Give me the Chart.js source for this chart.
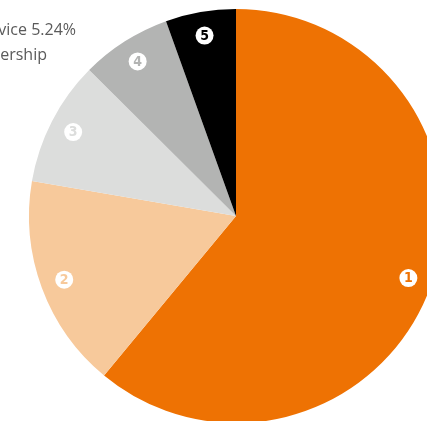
<!DOCTYPE html>
<html>
<head>
<meta charset="utf-8">
<script src="https://cdn.jsdelivr.net/npm/chart.js@4/dist/chart.umd.min.js"></script>
<style>
  html, body { margin: 0; padding: 0; background: #ffffff; overflow: hidden; width: 427px; height: 421px; }
  #wrap { position: absolute; left: 0; top: 0; width: 472px; height: 432px; }
  #note { position: absolute; left: 0; top: 0; width: 427px; height: 421px; pointer-events: none; }
</style>
</head>
<body>
<div id="wrap"><canvas id="c" width="472" height="432"></canvas></div>
<canvas id="note" width="427" height="421"></canvas>
<script>
// ---- data ----
const categories = ["1", "2", "3", "4", "5"];
const shares = [61.0, 16.7, 9.75, 7.06, 5.49];
const sliceColors = ["#EE7203", "#F7C99B", "#DCDDDC", "#B3B4B3", "#000000"];
const noteLines = ["Service 5.24%", "Ownership"];

const numberBadges = {
  id: "numberBadges",
  afterDatasetsDraw(chart) {
    const ctx = chart.ctx;
    const meta = chart.getDatasetMeta(0);
    meta.data.forEach((arc, i) => {
      const p = arc.getProps(["x", "y", "startAngle", "endAngle", "outerRadius"], true);
      const mid = (p.startAngle + p.endAngle) / 2;
      const r = p.outerRadius * 0.885;
      const cx = p.x + Math.cos(mid) * r;
      const cy = p.y + Math.sin(mid) * r;
      ctx.save();
      ctx.beginPath();
      ctx.arc(cx, cy, 9, 0, Math.PI * 2);
      ctx.fillStyle = "#ffffff";
      ctx.fill();
      ctx.fillStyle = sliceColors[i];
      ctx.font = "bold 14px 'DejaVu Sans Condensed', 'DejaVu Sans', sans-serif";
      ctx.textAlign = "center";
      ctx.textBaseline = "middle";
      ctx.fillText(categories[i], cx, cy + 0.5);
      ctx.restore();
    });
  }
};

new Chart(document.getElementById("c"), {
  type: "pie",
  data: {
    labels: categories,
    datasets: [{
      data: shares,
      backgroundColor: sliceColors,
      borderWidth: 0,
      hoverOffset: 0
    }]
  },
  options: {
    responsive: false,
    animation: false,
    layout: { padding: 9 },
    plugins: {
      legend: { display: false },
      tooltip: { enabled: false }
    }
  },
  plugins: [numberBadges]
});

// partially visible annotation text at top-left
const nctx = document.getElementById("note").getContext("2d");
nctx.fillStyle = "#5a5a5a";
nctx.font = "16px 'Open Sans', sans-serif";
nctx.textAlign = "right";
nctx.textBaseline = "alphabetic";
nctx.fillText(noteLines[0], 76, 35);
nctx.fillText(noteLines[1], 47, 60);
</script>
</body>
</html>
